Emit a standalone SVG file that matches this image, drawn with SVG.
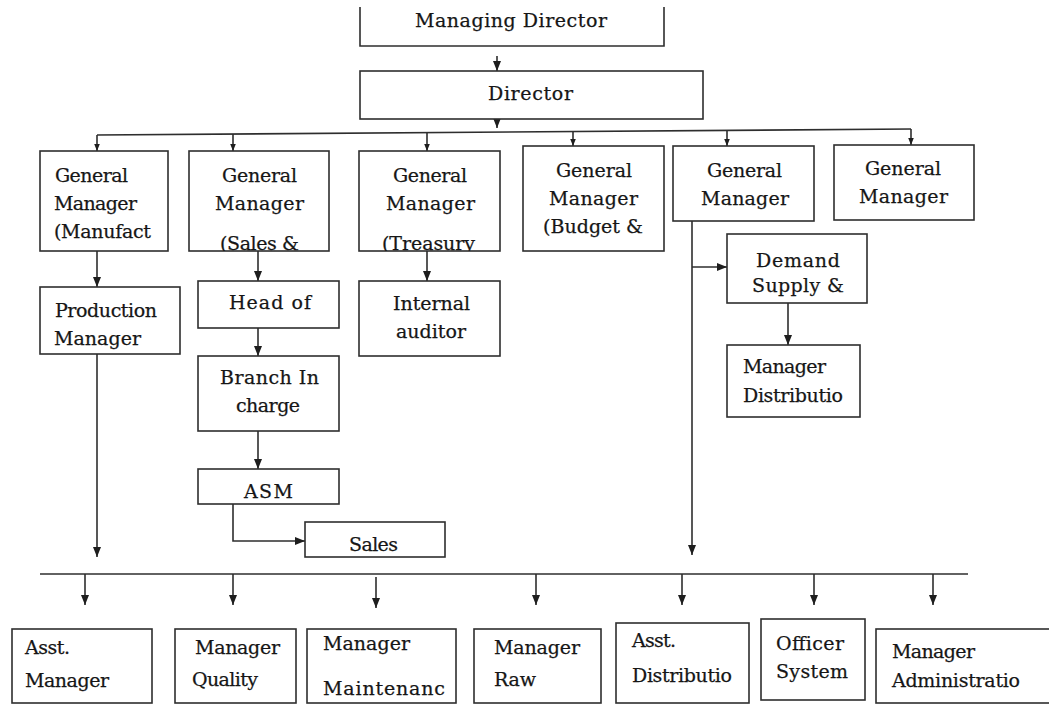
<svg xmlns="http://www.w3.org/2000/svg" width="1049" height="704" viewBox="0 0 1049 704">
  <style>
    .box { fill: #ffffff; stroke: #2e2e2e; stroke-width: 1.6; }
    .t { font-family: "DejaVu Serif", "Liberation Serif", serif; font-size: 19px; fill: #161616; stroke: #161616; stroke-width: 0.25; }
    .ln { fill: none; stroke: #2e2e2e; stroke-width: 1.6; }
    .arr { fill: none; stroke: #2e2e2e; stroke-width: 1.6; marker-end: url(#ah); }
    .arrs { fill: none; stroke: #2e2e2e; stroke-width: 1.6; marker-end: url(#ahs); }
  </style>
  <defs>
    <marker id="ah" viewBox="0 0 10 10" refX="10" refY="5" markerWidth="10" markerHeight="10" markerUnits="userSpaceOnUse" orient="auto">
      <path d="M0,1 L10,5 L0,9 z" fill="#1e1e1e"/>
    </marker>
    <marker id="ahs" viewBox="0 0 10 10" refX="10" refY="5" markerWidth="7" markerHeight="7" markerUnits="userSpaceOnUse" orient="auto">
      <path d="M0,1 L10,5 L0,9 z" fill="#1e1e1e"/>
    </marker>
    <clipPath id="clip-gm2"><rect x="189" y="151" width="140" height="100"/></clipPath>
    <clipPath id="clip-gm3"><rect x="359" y="151" width="141" height="100"/></clipPath>
  </defs>
  <rect width="1049" height="704" fill="#ffffff"/>

  <!-- connectors -->
  <g id="connectors">
    <path class="arr" d="M497,56 V71"/>
    <path class="arr" d="M497,106 V128"/>
    <path class="ln" d="M97,135 L911,129"/>
    <path class="arrs" d="M97,135 V151"/>
    <path class="arrs" d="M233,134 V151"/>
    <path class="arrs" d="M427,133 V151"/>
    <path class="arrs" d="M573,132 V146"/>
    <path class="arrs" d="M727,131 V146"/>
    <path class="arrs" d="M911,129 V145"/>
    <path class="arr" d="M97,251 V287"/>
    <path class="arr" d="M97,354 V557"/>
    <path class="arr" d="M258,251 V281"/>
    <path class="arr" d="M258,328 V356"/>
    <path class="arr" d="M258,431 V469"/>
    <path class="arr" d="M233,504 V541 H305"/>
    <path class="arr" d="M427,251 V281"/>
    <path class="arr" d="M692,221 V555"/>
    <path class="arr" d="M692,267 H727"/>
    <path class="arr" d="M788,303 V345"/>
    <path class="ln" d="M40,574 H968"/>
    <path class="arr" d="M85,574 V605"/>
    <path class="arr" d="M233,574 V605"/>
    <path class="arr" d="M376,577 V608"/>
    <path class="arr" d="M536,574 V605"/>
    <path class="arr" d="M682,574 V605"/>
    <path class="arr" d="M814,574 V605"/>
    <path class="arr" d="M933,574 V605"/>
  </g>

  <!-- top tier -->
  <g id="managing-director">
    <path class="box" d="M360,7 V46 H664 V7"/>
    <text class="t" x="415" y="27" textLength="192">Managing Director</text>
  </g>
  <g id="director">
    <rect class="box" x="360" y="71" width="343" height="48"/>
    <text class="t" x="488" y="100" textLength="85">Director</text>
  </g>

  <!-- general managers -->
  <g id="gm-manufacturing">
    <rect class="box" x="40" y="151" width="128" height="100"/>
    <text class="t" x="55" y="182" textLength="73">General</text>
    <text class="t" x="54" y="210" textLength="83">Manager</text>
    <text class="t" x="54" y="238" textLength="97">(Manufact</text>
  </g>
  <g id="gm-sales">
    <rect class="box" x="189" y="151" width="140" height="100"/>
    <text class="t" x="222" y="182" textLength="75">General</text>
    <text class="t" x="215" y="210" textLength="89">Manager</text>
    <text class="t" x="220" y="250" textLength="79" clip-path="url(#clip-gm2)">(Sales &amp;</text>
  </g>
  <g id="gm-treasury">
    <rect class="box" x="359" y="151" width="141" height="100"/>
    <text class="t" x="393" y="182" textLength="74">General</text>
    <text class="t" x="386" y="210" textLength="89">Manager</text>
    <text class="t" x="382" y="250" textLength="93" clip-path="url(#clip-gm3)">(Treasury</text>
  </g>
  <g id="gm-budget">
    <rect class="box" x="523" y="146" width="141" height="105"/>
    <text class="t" x="556" y="177" textLength="76">General</text>
    <text class="t" x="549" y="205" textLength="89">Manager</text>
    <text class="t" x="543" y="233" textLength="100">(Budget &amp;</text>
  </g>
  <g id="gm-five">
    <rect class="box" x="673" y="146" width="141" height="75"/>
    <text class="t" x="707" y="177" textLength="75">General</text>
    <text class="t" x="701" y="205" textLength="88">Manager</text>
  </g>
  <g id="gm-six">
    <rect class="box" x="834" y="145" width="140" height="75"/>
    <text class="t" x="865" y="175" textLength="76">General</text>
    <text class="t" x="859" y="203" textLength="89">Manager</text>
  </g>

  <!-- second tier -->
  <g id="production-manager">
    <rect class="box" x="40" y="287" width="140" height="67"/>
    <text class="t" x="55" y="317" textLength="102">Production</text>
    <text class="t" x="54" y="345" textLength="87">Manager</text>
  </g>
  <g id="head-of">
    <rect class="box" x="198" y="281" width="141" height="47"/>
    <text class="t" x="229" y="309" textLength="82">Head of</text>
  </g>
  <g id="branch-in-charge">
    <rect class="box" x="198" y="356" width="141" height="75"/>
    <text class="t" x="220" y="384" textLength="99">Branch In</text>
    <text class="t" x="236" y="412" textLength="64">charge</text>
  </g>
  <g id="asm">
    <rect class="box" x="198" y="469" width="141" height="35"/>
    <text class="t" x="244" y="498" textLength="49">ASM</text>
  </g>
  <g id="sales">
    <rect class="box" x="305" y="522" width="140" height="35"/>
    <text class="t" x="349" y="551" textLength="49">Sales</text>
  </g>
  <g id="internal-auditor">
    <rect class="box" x="359" y="281" width="141" height="75"/>
    <text class="t" x="393" y="310" textLength="77">Internal</text>
    <text class="t" x="396" y="338" textLength="70">auditor</text>
  </g>
  <g id="demand-supply">
    <rect class="box" x="727" y="234" width="140" height="69"/>
    <text class="t" x="756" y="267" textLength="84">Demand</text>
    <text class="t" x="752" y="292" textLength="92">Supply &amp;</text>
  </g>
  <g id="manager-distribution">
    <rect class="box" x="727" y="345" width="133" height="72"/>
    <text class="t" x="743" y="373" textLength="83">Manager</text>
    <text class="t" x="743" y="402" textLength="100">Distributio</text>
  </g>

  <!-- bottom tier -->
  <g id="asst-manager">
    <rect class="box" x="12" y="629" width="140" height="74"/>
    <text class="t" x="25" y="654" textLength="45">Asst.</text>
    <text class="t" x="25" y="687" textLength="84">Manager</text>
  </g>
  <g id="manager-quality">
    <rect class="box" x="175" y="629" width="121" height="74"/>
    <text class="t" x="195" y="654" textLength="85">Manager</text>
    <text class="t" x="192" y="686" textLength="66">Quality</text>
  </g>
  <g id="manager-maintenance">
    <rect class="box" x="307" y="629" width="149" height="74"/>
    <text class="t" x="323" y="650" textLength="87">Manager</text>
    <text class="t" x="323" y="695" textLength="122">Maintenanc</text>
  </g>
  <g id="manager-raw">
    <rect class="box" x="474" y="629" width="127" height="74"/>
    <text class="t" x="494" y="654" textLength="86">Manager</text>
    <text class="t" x="494" y="686" textLength="42">Raw</text>
  </g>
  <g id="asst-distribution">
    <rect class="box" x="616" y="623" width="133" height="80"/>
    <text class="t" x="632" y="647" textLength="44">Asst.</text>
    <text class="t" x="632" y="682" textLength="100">Distributio</text>
  </g>
  <g id="officer-system">
    <rect class="box" x="761" y="619" width="104" height="81"/>
    <text class="t" x="776" y="650" textLength="68">Officer</text>
    <text class="t" x="776" y="678" textLength="72">System</text>
  </g>
  <g id="manager-administration">
    <rect class="box" x="876" y="629" width="180" height="74"/>
    <text class="t" x="892" y="658" textLength="83">Manager</text>
    <text class="t" x="892" y="687" textLength="128">Administratio</text>
  </g>
</svg>
